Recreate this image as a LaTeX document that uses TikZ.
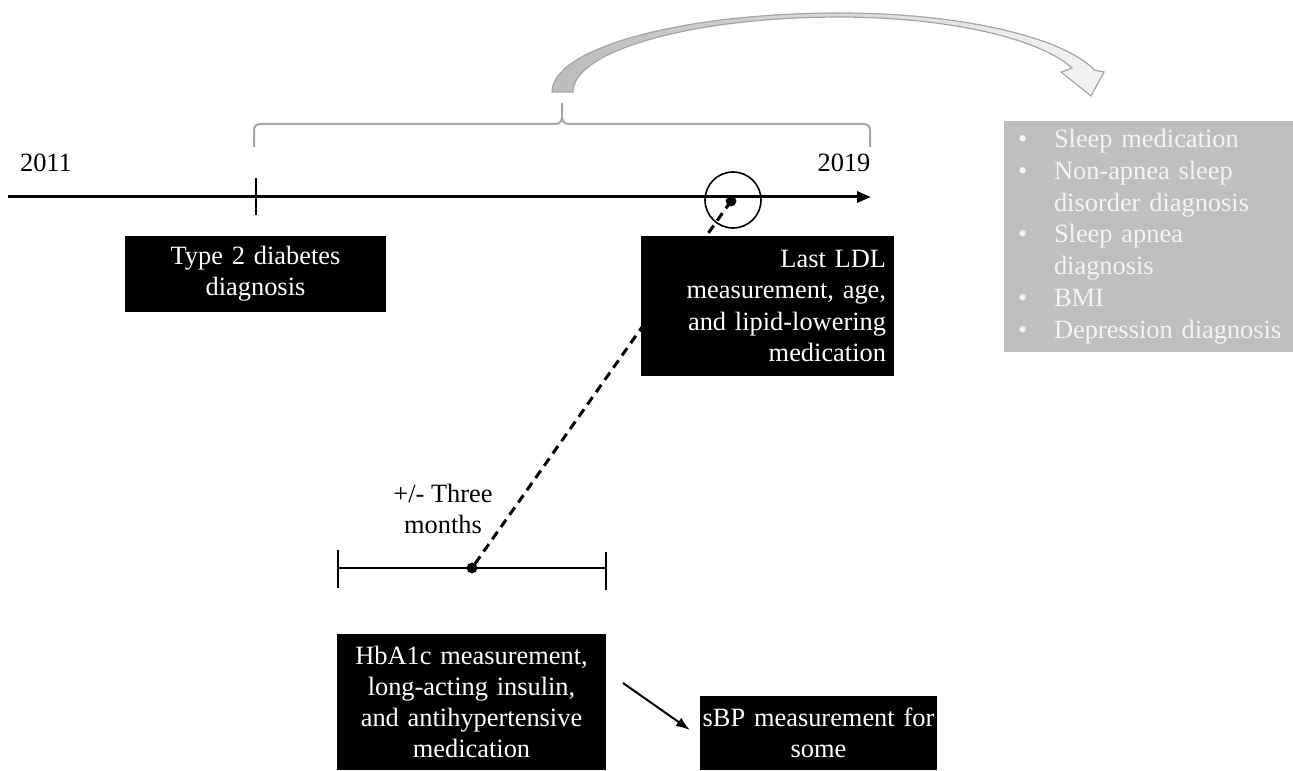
\documentclass[tikz,border=0pt]{standalone}
\usepackage{fontspec}
\setmainfont{Liberation Serif}
\usepackage{tikz}
\usetikzlibrary{arrows.meta,positioning,calc}
\definecolor{mBoxGray}{RGB}{191,191,191}
\definecolor{mBraceGray}{RGB}{165,165,165}
\definecolor{mPaleText}{RGB}{244,244,244}
\definecolor{mArrowEdge}{RGB}{165,165,165}
\definecolor{mArrowTail}{RGB}{188,188,188}
\definecolor{mArrowHead}{RGB}{244,244,244}
\newcommand{\tldot}[2]{%
  \node[circle, fill=black, inner sep=0pt, minimum size=5.4pt] (#1) at #2 {};
}
\newcommand{\bulletline}[1]{\hspace*{7pt}\makebox[18pt][l]{\textbullet}#1}
\newcommand{\contline}[1]{\hspace*{25pt}#1}

\begin{document}
\begin{tikzpicture}[x=0.5pt, y=-0.5pt,
    every node/.append style={font=\fontsize{13.2}{15.6}\selectfont, inner sep=0pt},
    darkbox/.style={fill=black, text=white, align=center}]
    \useasboundingbox (0,0) rectangle (1293,770);
    % curved arrow towards the outcome box
    \path[left color=mArrowTail, right color=mArrowHead, draw=mArrowEdge, line width=0.6pt]
      (552,92) arc[start angle=180, end angle=90, x radius=144pt, y radius=39.5pt]
      arc[start angle=90, end angle=16, x radius=132.5pt, y radius=39.5pt]
      -- (1104,72) -- (1091,96) -- (1061,72) -- (1072,68)
      arc[start angle=18.7, end angle=90, x radius=122.5pt, y radius=37.5pt]
      arc[start angle=90, end angle=180, x radius=133.5pt, y radius=37.5pt]
      -- cycle;
    % brace over the follow-up period
    \draw[mBraceGray, line width=1pt] (254,147) -- (254,131) .. controls (254,126) and (256,124) .. (261,124)
      -- (555,124) .. controls (560,124) and (562,121) .. (562,116) -- (562,103);
    \draw[mBraceGray, line width=1pt] (562,116) .. controls (562,121) and (564,124) .. (569,124)
      -- (863,124) .. controls (868,124) and (870,126) .. (870,131) -- (870,147);
    % timeline
    \coordinate (T0) at (8,197);
    \coordinate (T1) at (871,197);
    \draw[line width=1.5pt, -{Triangle[length=7pt,width=5.5pt]}] (T0) -- (T1);
    \draw[line width=0.8pt] (256,178) -- (256,215);
    \node (Y2011) at (46,163) {2011};
    \node (Y2019) at (844,163) {2019};
    \node[circle, draw, line width=0.8pt, minimum size=28pt] (LDLring) at (733,200) {};
    \tldot{LDLdot}{(731,201)}
    % three month window
    \coordinate (W0) at (338,568);
    \coordinate (W1) at (606,568);
    \draw[line width=1pt] (W0) -- (W1);
    \draw[line width=0.8pt] (338,550) -- (338,588);
    \draw[line width=0.8pt] (606,552) -- (606,590);
    \tldot{HBdot}{(472,568)}
    \node[align=center] (Window) at (443,509) {+/- Three\\months};
    \draw[line width=1.5pt, dash pattern=on 4.5pt off 3pt] (LDLdot.center) -- (HBdot.center);
    % boxes
    \node[darkbox, text width=130.5pt, minimum height=38pt] (T2D) at (255.5,274) {Type 2 diabetes\\diagnosis};
    \node[darkbox, align=right, text width=118.5pt, inner xsep=4pt, minimum height=70pt] (LDL) at (767.5,306)
      {Last LDL\\measurement, age,\\and lipid-lowering\\medication};
    \node[darkbox, text width=134.5pt, minimum height=68pt] (HBA) at (471.5,702)
      {HbA1c measurement,\\long-acting insulin,\\and antihypertensive\\medication};
    \node[darkbox, text width=118.5pt, minimum height=37pt] (SBP) at (818.5,733) {sBP measurement for\\some};
    \node[fill=mBoxGray, text=mPaleText, align=left, text width=144.5pt, minimum height=115.5pt,
      font=\fontsize{13.2}{15.9}\selectfont] (Sleep) at (1148.5,236.5)
      {\bulletline{Sleep medication}\\
       \bulletline{Non-apnea sleep}\\
       \contline{disorder diagnosis}\\
       \bulletline{Sleep apnea}\\
       \contline{diagnosis}\\
       \bulletline{BMI}\\
       \bulletline{Depression diagnosis}};
    \coordinate (A0) at (623,683);
    \coordinate (A1) at (690,730);
    \draw[line width=1pt, -{Latex[length=7pt,width=5pt]}] (A0) -- (A1);
  \end{tikzpicture}
\end{document}
